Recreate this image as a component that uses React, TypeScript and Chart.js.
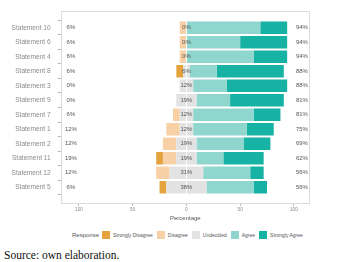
import React, { useEffect, useRef } from 'react';
import { Chart, registerables } from 'chart.js';

Chart.register(...registerables);

const statements = [
  'Statement 10', 'Statement 6', 'Statement 4', 'Statement 8', 'Statement 3', 'Statement 9',
  'Statement 7', 'Statement 1', 'Statement 2', 'Statement 11', 'Statement 12', 'Statement 5',
];
const stronglyDisagree = [0, 0, 0, 6.25, 0, 0, 0, 0, 0, 6.25, 0, 6.25];
const disagree = [6.25, 6.25, 6.25, 0, 0, 0, 6.25, 12.5, 12.5, 12.5, 12.5, 0];
const undecided = [0, 0, 0, 6.25, 12.5, 18.75, 12.5, 12.5, 18.75, 18.75, 31.25, 37.5];
const agree = [68.75, 50, 62.5, 25, 31.25, 31.25, 56.25, 50, 43.75, 25, 43.75, 43.75];
const stronglyAgree = [25, 43.75, 31.25, 62.5, 56.25, 50, 25, 25, 25, 37.5, 12.5, 12.5];

const leftLabels = ['6%', '6%', '6%', '6%', '0%', '0%', '6%', '12%', '12%', '19%', '12%', '6%'];
const centerLabels = ['0%', '0%', '0%', '6%', '12%', '19%', '12%', '12%', '19%', '19%', '31%', '38%'];
const rightLabels = ['94%', '94%', '94%', '88%', '88%', '81%', '81%', '75%', '69%', '62%', '56%', '56%'];

const xTicks = [-100, -50, 0, 50, 100];
const responses = ['Strongly Disagree', 'Disagree', 'Undecided', 'Agree', 'Strongly Agree'];
const colors = ['#E4A33C', '#F8D0A6', '#E2E2E2', '#8FD6CF', '#16B2A3'];

const FONT = "'Liberation Sans', Arial, Helvetica, sans-serif";

const framePlugin = {
  id: 'frame',
  afterDraw(chart: any) {
    const { ctx, chartArea } = chart;
    const l = Math.round(chartArea.left);
    const t = Math.round(chartArea.top);
    const r = Math.round(chartArea.right);
    const b = Math.round(chartArea.bottom);
    ctx.save();
    ctx.strokeStyle = '#b8b8b8';
    ctx.lineWidth = 1;
    ctx.setLineDash([1, 1]);
    ctx.strokeRect(l + 0.5, t + 0.5, r - l - 1, b - t - 1);
    ctx.restore();
  },
};

const labelPlugin = {
  id: 'pctLabels',
  afterDatasetsDraw(chart: any) {
    const { ctx } = chart;
    const xs = chart.scales.x;
    const ys = chart.scales.y;
    ctx.save();
    ctx.font = `6px ${FONT}`;
    ctx.fillStyle = '#555';
    ctx.textAlign = 'center';
    ctx.textBaseline = 'middle';
    statements.forEach((_, i) => {
      const y = ys.getPixelForValue(i);
      ctx.fillText(leftLabels[i], xs.getPixelForValue(-107.5), y);
      ctx.fillText(centerLabels[i], xs.getPixelForValue(0), y);
      ctx.fillText(rightLabels[i], xs.getPixelForValue(107.5), y);
    });
    ctx.restore();
  },
};

const pts = (arr: number[], sign: number, f = 1) => arr.map((v, i) => ({ x: sign * v * f, y: i }));

export default function App() {
  const ref = useRef<HTMLCanvasElement>(null);

  useEffect(() => {
    if (!ref.current) return;
    const chart = new Chart(ref.current, {
      type: 'bar',
      data: {
        datasets: [
          { label: 'Undecided', data: pts(undecided, -1, 0.5), backgroundColor: colors[2] },
          { label: 'Undecided', data: pts(undecided, 1, 0.5), backgroundColor: colors[2] },
          { label: 'Disagree', data: pts(disagree, -1), backgroundColor: colors[1] },
          { label: 'Agree', data: pts(agree, 1), backgroundColor: colors[3] },
          { label: 'Strongly Disagree', data: pts(stronglyDisagree, -1), backgroundColor: colors[0] },
          { label: 'Strongly Agree', data: pts(stronglyAgree, 1), backgroundColor: colors[4] },
        ] as any,
      },
      options: {
        indexAxis: 'y',
        responsive: false,
        animation: false,
        layout: { padding: { top: 11, right: 40, bottom: 3, left: 0 } },
        datasets: { bar: { categoryPercentage: 1, barPercentage: 0.85, borderWidth: 0 } },
        plugins: { legend: { display: false }, tooltip: { enabled: false } },
        scales: {
          x: {
            type: 'linear',
            stacked: true,
            min: -117,
            max: 115,
            afterBuildTicks: (s: any) => {
              s.ticks = xTicks.map((v) => ({ value: v }));
            },
            ticks: {
              callback: (v: any) => String(Math.abs(Number(v))),
              font: { family: FONT, size: 4.7 },
              color: '#888',
              padding: 1,
              maxRotation: 0,
              autoSkip: false,
            },
            grid: { drawOnChartArea: false, drawTicks: true, tickLength: 2, color: '#bbb' },
            border: { display: false },
            title: { display: true, text: 'Percentage', font: { family: FONT, size: 6 }, color: '#555', padding: 0 },
            afterFit: (s: any) => {
              s.height = 18;
            },
          },
          y: {
            type: 'linear',
            stacked: true,
            reverse: true,
            min: -0.6,
            max: 11.6,
            afterBuildTicks: (s: any) => {
              s.ticks = statements.map((_, i) => ({ value: i }));
            },
            ticks: {
              callback: (v: any) => statements[Number(v)] ?? '',
              font: { family: FONT, size: 6.6 },
              color: '#8c8c8c',
              padding: 7,
              autoSkip: false,
            },
            grid: { drawOnChartArea: false, drawTicks: true, tickLength: 3, color: '#bbb' },
            border: { display: false },
            afterFit: (s: any) => {
              s.width = 60.7;
            },
          },
        },
      } as any,
      plugins: [framePlugin, labelPlugin],
    });
    return () => chart.destroy();
  }, []);

  const legendText = { fontFamily: FONT, fontSize: 5, color: '#555', marginLeft: 3, marginRight: 4 } as const;

  return (
    <div style={{ position: 'fixed', left: 0, top: 0, width: 350, height: 262, background: '#fff', overflow: 'hidden' }}>
      <canvas ref={ref} width={350} height={225} style={{ position: 'absolute', left: 0, top: 0 }} />
      <div
        style={{
          position: 'absolute',
          left: 72,
          top: 231,
          height: 8,
          display: 'flex',
          alignItems: 'center',
          whiteSpace: 'nowrap',
        }}
      >
        <span style={{ fontFamily: FONT, fontSize: 6, color: '#555', marginRight: 3 }}>Response</span>
        {responses.map((r, i) => (
          <React.Fragment key={r}>
            <span style={{ display: 'inline-block', width: 8, height: 8, background: colors[i] }} />
            <span style={legendText}>{r}</span>
          </React.Fragment>
        ))}
      </div>
      <div
        style={{
          position: 'absolute',
          left: 4,
          top: 249,
          fontFamily: "'Liberation Serif', 'Times New Roman', serif",
          fontSize: 11.5,
          color: '#111',
          whiteSpace: 'nowrap',
        }}
      >
        Source: own elaboration.
      </div>
    </div>
  );
}
